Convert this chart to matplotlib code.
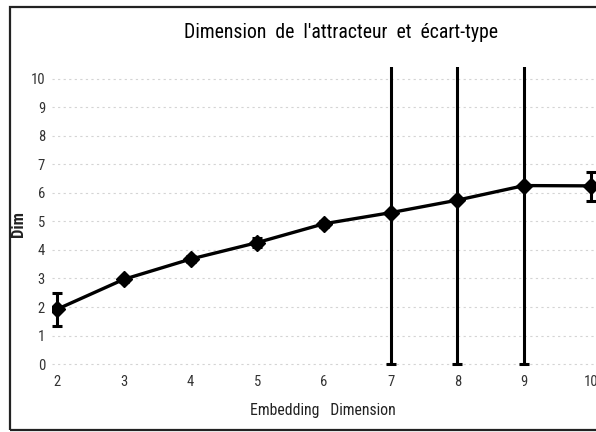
import matplotlib
matplotlib.use("Agg")
import matplotlib.pyplot as plt
from matplotlib.patches import Rectangle

# Data
embedding_dim = [2, 3, 4, 5, 6, 7, 8, 9, 10]
dim_mean = [1.92, 2.97, 3.68, 4.26, 4.92, 5.31, 5.75, 6.26, 6.25]
err_low = [0.57, 0.08, 0.10, 0.15, 0.10, 5.31, 5.75, 6.26, 0.52]
err_high = [0.57, 0.08, 0.10, 0.15, 0.10, 6.00, 6.00, 6.00, 0.48]
xticks = [2, 3, 4, 5, 6, 7, 8, 9, 10]
yticks = [0, 1, 2, 3, 4, 5, 6, 7, 8, 9, 10]

title = "Dimension  de  l'attracteur  et  écart-type"
xlabel = "Embedding   Dimension"
ylabel = "Dim"

plt.rcParams['font.family'] = ['Roboto Condensed', 'DejaVu Sans']

W, H = 596, 432
fig = plt.figure(figsize=(W / 100, H / 100), dpi=100)
fig.patch.set_facecolor('white')

# frame around the figure
fig.patches.append(Rectangle((10 / W, (H - 430) / H), 1.2, (430 - 7) / H,
                             transform=fig.transFigure, fill=False,
                             edgecolor='#222222', linewidth=1.6))

ax = fig.add_axes([52 / W, (H - 368) / H, 544 / W, 301 / H])
ax.set_xlim(1.925, 10.075)
ax.set_ylim(-0.14, 10.42)

ax.errorbar(embedding_dim, dim_mean, yerr=[err_low, err_high],
            color='black', linewidth=2.4, elinewidth=2.2, capsize=3.6,
            capthick=2.2, marker='D', markersize=8, zorder=3)

for s in ax.spines.values():
    s.set_visible(False)
ax.set_xticks(xticks)
ax.set_yticks(yticks)
ax.tick_params(length=0, labelsize=10.5, colors='#333333', pad=5)
ax.grid(axis='y', color='#d4d4d4', linestyle=(0, (2, 3)), linewidth=0.8)
ax.set_axisbelow(True)

fig.text(341 / W, 1 - 33 / H, title, ha='center', va='center',
         fontsize=14.2, color='black')
fig.text(323 / W, 1 - 410 / H, xlabel, ha='center', va='center',
         fontsize=11.3, color='#222222')
fig.text(18 / W, 1 - 224 / H, ylabel, ha='center', va='center',
         rotation=90, fontsize=12, fontweight='bold', color='#222222')

fig.savefig("out.png", dpi=100)
